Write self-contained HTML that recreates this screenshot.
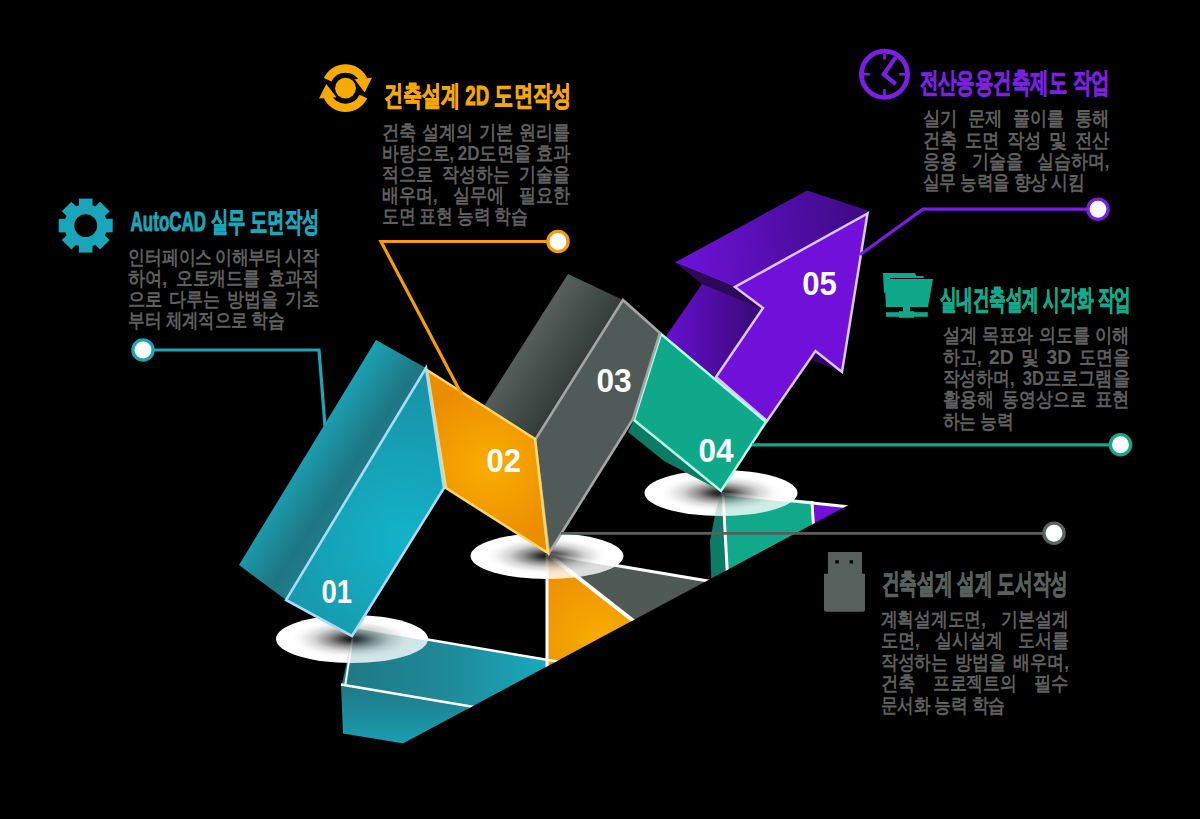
<!DOCTYPE html>
<html><head><meta charset="utf-8"><title>Infographic</title>
<style>
html,body{margin:0;padding:0;background:#000;width:1200px;height:819px;overflow:hidden}
svg{display:block}
text{font-family:"Liberation Sans",sans-serif}
.b{fill:#5f5f5f;font-size:19.5px;font-weight:bold}
.t{font-size:27.5px;font-weight:bold;stroke-width:0.9px}
.n{fill:#fff;font-size:34px;font-weight:bold}
</style></head><body>
<svg width="1200" height="819" viewBox="0 0 1200 819">
<defs>
  <clipPath id="cut"><polygon points="0,0 1200,0 1200,317 0,959"/></clipPath>
  <radialGradient id="shadow" cx="0.5" cy="0.5" r="0.5">
    <stop offset="0" stop-color="#181818"/>
    <stop offset="0.1" stop-color="#303030"/>
    <stop offset="0.3" stop-color="#8e8e8e"/>
    <stop offset="0.5" stop-color="#d6d6d6"/>
    <stop offset="0.68" stop-color="#f7f7f7"/>
    <stop offset="0.78" stop-color="#fff"/>
  </radialGradient>
  <linearGradient id="tealSide" gradientUnits="userSpaceOnUse" x1="300" y1="440" x2="360" y2="480">
    <stop offset="0" stop-color="#1aa8bc"/><stop offset="0.8" stop-color="#1f7683"/><stop offset="1" stop-color="#1f7b89"/>
  </linearGradient>
  <radialGradient id="tealFront" gradientUnits="userSpaceOnUse" cx="405" cy="540" r="170">
    <stop offset="0" stop-color="#13b3c9"/><stop offset="1" stop-color="#1890a4"/>
  </radialGradient>
  <radialGradient id="orangeFront" gradientUnits="userSpaceOnUse" cx="490" cy="465" r="80">
    <stop offset="0" stop-color="#f9ae00"/><stop offset="1" stop-color="#ec8d00"/>
  </radialGradient>
  <linearGradient id="graySide" gradientUnits="userSpaceOnUse" x1="525" y1="330" x2="585" y2="370">
    <stop offset="0" stop-color="#58625f"/><stop offset="1" stop-color="#323a38"/>
  </linearGradient>
  <linearGradient id="purpTop" gradientUnits="userSpaceOnUse" x1="690" y1="250" x2="860" y2="230">
    <stop offset="0" stop-color="#6a12d4"/><stop offset="1" stop-color="#3f0a88"/>
  </linearGradient>
  <linearGradient id="purpShaft" gradientUnits="userSpaceOnUse" x1="668" y1="0" x2="758" y2="0">
    <stop offset="0" stop-color="#6610ce"/><stop offset="1" stop-color="#3a0878"/>
  </linearGradient>
  <linearGradient id="reflTealA" gradientUnits="userSpaceOnUse" x1="350" y1="0" x2="555" y2="0">
    <stop offset="0" stop-color="#1f7a87"/><stop offset="0.45" stop-color="#1f8896"/><stop offset="1" stop-color="#19abbf"/>
  </linearGradient>
  <linearGradient id="reflTealB" gradientUnits="userSpaceOnUse" x1="0" y1="690" x2="0" y2="745">
    <stop offset="0" stop-color="#1f7c89"/><stop offset="1" stop-color="#1a9fb3"/>
  </linearGradient>
  <radialGradient id="reflOrange" gradientUnits="userSpaceOnUse" cx="600" cy="640" r="95">
    <stop offset="0" stop-color="#f8ad00"/><stop offset="1" stop-color="#e98a06"/>
  </radialGradient>
  <clipPath id="ellClip"><ellipse cx="352" cy="639" rx="76" ry="24"/><ellipse cx="547" cy="556" rx="76.5" ry="23"/><ellipse cx="721" cy="493" rx="76.5" ry="23"/></clipPath>
  <mask id="gearHole"><rect x="0" y="0" width="1200" height="819" fill="#fff"/><circle cx="85.7" cy="225.6" r="11.4" fill="#000"/></mask>
</defs>

<rect width="1200" height="819" fill="#000"/>

<!-- ===== reflections ===== -->
<g clip-path="url(#cut)"><g id="refl">
  <polygon points="352,637 354,627 562,662 480,712 342,684" fill="url(#reflTealA)"/>
  <polygon points="341,684 480,708 520,722 440,749.5 343,733.5" fill="url(#reflTealB)"/>
  <polygon points="548,554 660,641 548,700" fill="url(#reflOrange)"/>
  <polygon points="548,554 722,583 650,650 640,626" fill="#4f5956"/>
  <polygon points="721,492 725,492 729,590 712,600 710,541 716,510" fill="#0d7c66"/>
  <polygon points="725,493 812,501 815,540 729,600" fill="#10a98a"/>
  <polygon points="814,504.5 860,509 860,540 815,540" fill="#7010d8"/>
  <g stroke="#fff" fill="none">
    <line x1="354" y1="627" x2="560" y2="662" stroke-width="2.5"/>
    <line x1="352.6" y1="638" x2="345.4" y2="684" stroke-width="2"/>
    <line x1="341" y1="684.5" x2="480" y2="708" stroke-width="2.5"/>
    <line x1="547" y1="554" x2="547" y2="670" stroke-width="3"/>
    <line x1="548" y1="554" x2="645" y2="630" stroke-width="4"/>
    <line x1="548" y1="554" x2="720" y2="583" stroke-width="3"/>
    <line x1="723" y1="493" x2="728" y2="585" stroke-width="3"/>
    <line x1="812" y1="501" x2="814" y2="535" stroke-width="3"/>
    <line x1="721" y1="493.5" x2="860" y2="508" stroke-width="3"/>
  </g>
</g></g>

<!-- ===== shadows ===== -->
<ellipse cx="352" cy="639" rx="76" ry="24" fill="url(#shadow)"/>
<ellipse cx="547" cy="556" rx="76.5" ry="23" fill="url(#shadow)"/>
<ellipse cx="721" cy="493" rx="76.5" ry="23" fill="url(#shadow)"/>
<g clip-path="url(#ellClip)" opacity="0.2"><use href="#refl" clip-path="url(#cut)"/></g>

<!-- ===== purple 05 ===== -->
<polygon points="675,262.5 807,190.5 869.5,211 867.5,213.5 735,287" fill="url(#purpTop)"/>
<polygon points="675,262.5 734,286.5 761,308 702,284" fill="#2d0858"/>
<polygon points="702,284 761,308 716,377 660,345" fill="url(#purpShaft)"/>
<polygon points="815.5,352 811.5,360 841.5,372" fill="#2d0858"/>
<polygon points="867.5,213.5 735,287 763,308 716,377 767,421 815.5,351 842,372" fill="#7010d8" stroke="#dcc6ff" stroke-width="2.5" stroke-linejoin="miter"/>

<!-- ===== green 04 ===== -->
<polygon points="634,420 628,432 664,461 721,491" fill="#0c7b64"/>
<polygon points="661,334 766,422 721,491 634,420" fill="#0fa98a" stroke="#b4ffe8" stroke-width="2.5"/>

<!-- ===== gray 03 ===== -->
<polygon points="568,274 623,300 535,440 484,406" fill="url(#graySide)"/>
<polygon points="623,300 660,333 633,419 549,553 535,440" fill="#505a58" stroke="#a5a5a5" stroke-width="2.6"/>

<!-- ===== orange 02 ===== -->
<polygon points="427,370 535,439 548,553 446,488" fill="url(#orangeFront)" stroke="#ffd766" stroke-width="2.6"/>

<!-- ===== teal 01 ===== -->
<polygon points="376,340 426,368 286,600 239,565" fill="url(#tealSide)"/>
<polygon points="426,368 444,488 352,636 286,600" fill="url(#tealFront)" stroke="#a6dcf7" stroke-width="2.6"/>

<!-- ===== leader lines ===== -->
<g fill="none" stroke-width="3.2" stroke-linejoin="miter">
  <polyline points="143,350 319,350 325,426" stroke="#1aa5b9"/>
  <polyline points="558,241.5 381,241.5 462,395" stroke="#f49e00"/>
  <polyline points="860,254.7 923,209.2 1098,209.2" stroke="#7a1de2"/>
  <polyline points="752,444.8 1120,444.8" stroke="#12a98a"/>
  <polyline points="561,533.3 1054,533.3" stroke="#56615e" stroke-width="2.7"/>
</g>
<g fill="#fff" stroke-width="3.3">
  <circle cx="143" cy="350" r="10.1" stroke="#1aa5b9"/>
  <circle cx="558" cy="241.5" r="10.1" stroke="#f49e00"/>
  <circle cx="1098" cy="209.2" r="10.1" stroke="#7a1de2"/>
  <circle cx="1120.5" cy="444.8" r="10.1" stroke="#12a98a"/>
  <circle cx="1054" cy="533.3" r="10.1" stroke="#586461"/>
</g>

<!-- ===== numbers ===== -->
<text class="n" x="321.5" y="602.5" textLength="30.6" lengthAdjust="spacingAndGlyphs">01</text>
<text class="n" x="486.5" y="472" textLength="34.5" lengthAdjust="spacingAndGlyphs">02</text>
<text class="n" x="596.5" y="392" textLength="35.2" lengthAdjust="spacingAndGlyphs">03</text>
<text class="n" x="698.5" y="462" textLength="35.1" lengthAdjust="spacingAndGlyphs">04</text>
<text class="n" x="802.2" y="294.5" textLength="34.6" lengthAdjust="spacingAndGlyphs">05</text>

<!-- ===== icons ===== -->
<!-- gear -->
<g fill="#19a6ba" mask="url(#gearHole)">
  <circle cx="85.7" cy="225.6" r="21.5"/>
  <g transform="translate(85.7 225.6)">
    <rect x="-6.8" y="-27" width="13.6" height="12"/>
    <rect x="-6.8" y="-27" width="13.6" height="12" transform="rotate(45)"/>
    <rect x="-6.8" y="-27" width="13.6" height="12" transform="rotate(90)"/>
    <rect x="-6.8" y="-27" width="13.6" height="12" transform="rotate(135)"/>
    <rect x="-6.8" y="-27" width="13.6" height="12" transform="rotate(180)"/>
    <rect x="-6.8" y="-27" width="13.6" height="12" transform="rotate(225)"/>
    <rect x="-6.8" y="-27" width="13.6" height="12" transform="rotate(270)"/>
    <rect x="-6.8" y="-27" width="13.6" height="12" transform="rotate(315)"/>
  </g>
</g>
<!-- refresh -->
<g fill="#f7aa00">
  <circle cx="345.5" cy="88.2" r="10.4"/>
  <path d="M323.8,78.1 A24,24 0 0 1 367.2,78.1 L359.5,81.6 A15.5,15.5 0 0 0 331.5,81.6 Z"/>
  <polygon points="354.5,79.2 372,77.8 364.7,92.4"/>
  <path d="M367.2,98.3 A24,24 0 0 1 323.8,98.3 L331.5,94.8 A15.5,15.5 0 0 0 359.5,94.8 Z"/>
  <polygon points="336.5,97.2 319,98.6 326.3,84"/>
</g>
<!-- clock -->
<g stroke="#7b1fe6" fill="none">
  <circle cx="884.5" cy="74.3" r="23.1" stroke-width="4.8"/>
  <g stroke-width="2.6">
    <line x1="884.5" y1="53.6" x2="884.5" y2="59.6"/>
    <line x1="884.5" y1="89" x2="884.5" y2="95"/>
    <line x1="863.8" y1="74.3" x2="869.8" y2="74.3"/>
    <line x1="899.2" y1="74.3" x2="905.2" y2="74.3"/>
  </g>
  <polyline points="895.7,57.2 883.8,74.3 895.7,84" stroke-width="4.2" stroke-linejoin="miter"/>
</g>
<!-- monitor/folder -->
<g fill="#10a88a">
  <polygon points="883,273 915,273 916.3,276 923.5,276 923.8,278 890,278 890,280 884,294"/>
  <polygon points="884.5,279 933,279 928,307 886,307"/>
  <rect x="903" y="306" width="7" height="7"/>
  <rect x="886" y="312.2" width="41.8" height="4.6"/>
  <rect x="899" y="311.2" width="15" height="6.6"/>
</g>
<!-- usb -->
<g fill="#56605d">
  <rect x="828" y="552" width="34" height="23"/>
  <path d="M824,573.8 H865 V609.8 Q865,611.8 863,611.8 H826 Q824,611.8 824,609.8 Z"/>
  <rect x="835.3" y="560.2" width="3.4" height="3.2" fill="#000"/>
  <rect x="849.6" y="560.2" width="3.4" height="3.2" fill="#000"/>
</g>

<!-- ===== text blocks ===== -->
<!-- teal -->
<text class="t" fill="#1aa6bb" stroke="#1aa6bb" x="130.6" y="231" textLength="188.8" lengthAdjust="spacingAndGlyphs">AutoCAD 실무 도면작성</text>
<!-- orange -->
<text class="t" fill="#f5a800" stroke="#f5a800" x="383.7" y="105" textLength="187.1" lengthAdjust="spacingAndGlyphs">건축설계 2D 도면작성</text>
<!-- purple -->
<text class="t" fill="#7b1fe3" stroke="#7b1fe3" x="919.5" y="92" textLength="190.0" lengthAdjust="spacingAndGlyphs">전산응용건축제도 작업</text>
<!-- green -->
<text class="t" fill="#12a98a" stroke="#12a98a" x="939.6" y="308.7" textLength="191.2" lengthAdjust="spacingAndGlyphs">실내건축설계 시각화 작업</text>
<!-- gray -->
<text class="t" fill="#56605d" stroke="#56605d" x="881.5" y="592.5" textLength="186.4" lengthAdjust="spacingAndGlyphs">건축설계 설계 도서작성</text>
<!-- body text -->
<text class="b" x="128.1" y="263.5" textLength="84.1" lengthAdjust="spacingAndGlyphs">인터페이스</text>
<text class="b" x="214.7" y="263.5" textLength="67.6" lengthAdjust="spacingAndGlyphs">이해부터</text>
<text class="b" x="284.8" y="263.5" textLength="34.6" lengthAdjust="spacingAndGlyphs">시작</text>
<text class="b" x="128.1" y="284.7" textLength="39.1" lengthAdjust="spacingAndGlyphs">하여,</text>
<text class="b" x="175.7" y="284.7" textLength="84.1" lengthAdjust="spacingAndGlyphs">오토캐드를</text>
<text class="b" x="268.3" y="284.7" textLength="51.1" lengthAdjust="spacingAndGlyphs">효과적</text>
<text class="b" x="128.1" y="306" textLength="34.6" lengthAdjust="spacingAndGlyphs">으로</text>
<text class="b" x="169.3" y="306" textLength="51.1" lengthAdjust="spacingAndGlyphs">다루는</text>
<text class="b" x="227.1" y="306" textLength="51.1" lengthAdjust="spacingAndGlyphs">방법을</text>
<text class="b" x="284.8" y="306" textLength="34.6" lengthAdjust="spacingAndGlyphs">기초</text>
<text class="b" x="128.1" y="327.3" textLength="33.6" lengthAdjust="spacingAndGlyphs">부터</text>
<text class="b" x="165.6" y="327.3" textLength="81.6" lengthAdjust="spacingAndGlyphs">체계적으로</text>
<text class="b" x="251.1" y="327.3" textLength="33.6" lengthAdjust="spacingAndGlyphs">학습</text>
<text class="b" x="381.9" y="138.5" textLength="34.6" lengthAdjust="spacingAndGlyphs">건축</text>
<text class="b" x="422.1" y="138.5" textLength="51.1" lengthAdjust="spacingAndGlyphs">설계의</text>
<text class="b" x="478.8" y="138.5" textLength="34.6" lengthAdjust="spacingAndGlyphs">기본</text>
<text class="b" x="519.0" y="138.5" textLength="51.1" lengthAdjust="spacingAndGlyphs">원리를</text>
<text class="b" x="381.9" y="159.7" textLength="72.1" lengthAdjust="spacingAndGlyphs">바탕으로,</text>
<text class="b" x="457.7" y="159.7" textLength="74.1" lengthAdjust="spacingAndGlyphs">2D도면을</text>
<text class="b" x="535.5" y="159.7" textLength="34.6" lengthAdjust="spacingAndGlyphs">효과</text>
<text class="b" x="381.9" y="180.9" textLength="51.1" lengthAdjust="spacingAndGlyphs">적으로</text>
<text class="b" x="442.2" y="180.9" textLength="67.6" lengthAdjust="spacingAndGlyphs">작성하는</text>
<text class="b" x="519.0" y="180.9" textLength="51.1" lengthAdjust="spacingAndGlyphs">기술을</text>
<text class="b" x="381.9" y="202.1" textLength="55.6" lengthAdjust="spacingAndGlyphs">배우며,</text>
<text class="b" x="452.7" y="202.1" textLength="51.1" lengthAdjust="spacingAndGlyphs">실무에</text>
<text class="b" x="519.0" y="202.1" textLength="51.1" lengthAdjust="spacingAndGlyphs">필요한</text>
<text class="b" x="381.9" y="223.3" textLength="33.6" lengthAdjust="spacingAndGlyphs">도면</text>
<text class="b" x="419.4" y="223.3" textLength="33.6" lengthAdjust="spacingAndGlyphs">표현</text>
<text class="b" x="456.9" y="223.3" textLength="33.6" lengthAdjust="spacingAndGlyphs">능력</text>
<text class="b" x="494.4" y="223.3" textLength="33.6" lengthAdjust="spacingAndGlyphs">학습</text>
<text class="b" x="922.5" y="125.2" textLength="34.6" lengthAdjust="spacingAndGlyphs">실기</text>
<text class="b" x="967.7" y="125.2" textLength="34.6" lengthAdjust="spacingAndGlyphs">문제</text>
<text class="b" x="1013.0" y="125.2" textLength="51.1" lengthAdjust="spacingAndGlyphs">풀이를</text>
<text class="b" x="1074.7" y="125.2" textLength="34.6" lengthAdjust="spacingAndGlyphs">통해</text>
<text class="b" x="922.5" y="146.5" textLength="34.6" lengthAdjust="spacingAndGlyphs">건축</text>
<text class="b" x="964.7" y="146.5" textLength="34.6" lengthAdjust="spacingAndGlyphs">도면</text>
<text class="b" x="1006.8" y="146.5" textLength="34.6" lengthAdjust="spacingAndGlyphs">작성</text>
<text class="b" x="1049.0" y="146.5" textLength="18.1" lengthAdjust="spacingAndGlyphs">및</text>
<text class="b" x="1074.7" y="146.5" textLength="34.6" lengthAdjust="spacingAndGlyphs">전산</text>
<text class="b" x="922.5" y="167.8" textLength="34.6" lengthAdjust="spacingAndGlyphs">응용</text>
<text class="b" x="971.6" y="167.8" textLength="51.1" lengthAdjust="spacingAndGlyphs">기술을</text>
<text class="b" x="1037.2" y="167.8" textLength="72.1" lengthAdjust="spacingAndGlyphs">실습하며,</text>
<text class="b" x="922.5" y="189.1" textLength="33.6" lengthAdjust="spacingAndGlyphs">실무</text>
<text class="b" x="960.0" y="189.1" textLength="49.6" lengthAdjust="spacingAndGlyphs">능력을</text>
<text class="b" x="1013.5" y="189.1" textLength="33.6" lengthAdjust="spacingAndGlyphs">향상</text>
<text class="b" x="1051.0" y="189.1" textLength="33.6" lengthAdjust="spacingAndGlyphs">시킴</text>
<text class="b" x="942.5" y="342.3" textLength="34.6" lengthAdjust="spacingAndGlyphs">설계</text>
<text class="b" x="982.4" y="342.3" textLength="51.1" lengthAdjust="spacingAndGlyphs">목표와</text>
<text class="b" x="1038.8" y="342.3" textLength="51.1" lengthAdjust="spacingAndGlyphs">의도를</text>
<text class="b" x="1095.2" y="342.3" textLength="34.6" lengthAdjust="spacingAndGlyphs">이해</text>
<text class="b" x="942.5" y="363.6" textLength="39.1" lengthAdjust="spacingAndGlyphs">하고,</text>
<text class="b" x="989.0" y="363.6" textLength="24.6" lengthAdjust="spacingAndGlyphs">2D</text>
<text class="b" x="1021.1" y="363.6" textLength="18.1" lengthAdjust="spacingAndGlyphs">및</text>
<text class="b" x="1046.6" y="363.6" textLength="24.6" lengthAdjust="spacingAndGlyphs">3D</text>
<text class="b" x="1078.7" y="363.6" textLength="51.1" lengthAdjust="spacingAndGlyphs">도면을</text>
<text class="b" x="942.5" y="385" textLength="72.1" lengthAdjust="spacingAndGlyphs">작성하며,</text>
<text class="b" x="1022.7" y="385" textLength="107.1" lengthAdjust="spacingAndGlyphs">3D프로그램을</text>
<text class="b" x="942.5" y="406.3" textLength="51.1" lengthAdjust="spacingAndGlyphs">활용해</text>
<text class="b" x="1002.4" y="406.3" textLength="84.1" lengthAdjust="spacingAndGlyphs">동영상으로</text>
<text class="b" x="1095.2" y="406.3" textLength="34.6" lengthAdjust="spacingAndGlyphs">표현</text>
<text class="b" x="942.5" y="427.7" textLength="33.6" lengthAdjust="spacingAndGlyphs">하는</text>
<text class="b" x="980.0" y="427.7" textLength="33.6" lengthAdjust="spacingAndGlyphs">능력</text>
<text class="b" x="880.7" y="625.7" textLength="105.1" lengthAdjust="spacingAndGlyphs">계획설계도면,</text>
<text class="b" x="1001.2" y="625.7" textLength="67.6" lengthAdjust="spacingAndGlyphs">기본설계</text>
<text class="b" x="880.7" y="647.2" textLength="39.1" lengthAdjust="spacingAndGlyphs">도면,</text>
<text class="b" x="935.0" y="647.2" textLength="67.6" lengthAdjust="spacingAndGlyphs">실시설계</text>
<text class="b" x="1017.7" y="647.2" textLength="51.1" lengthAdjust="spacingAndGlyphs">도서를</text>
<text class="b" x="880.7" y="668.7" textLength="67.6" lengthAdjust="spacingAndGlyphs">작성하는</text>
<text class="b" x="955.2" y="668.7" textLength="51.1" lengthAdjust="spacingAndGlyphs">방법을</text>
<text class="b" x="1013.2" y="668.7" textLength="55.6" lengthAdjust="spacingAndGlyphs">배우며,</text>
<text class="b" x="880.7" y="690.2" textLength="34.6" lengthAdjust="spacingAndGlyphs">건축</text>
<text class="b" x="932.7" y="690.2" textLength="84.1" lengthAdjust="spacingAndGlyphs">프로젝트의</text>
<text class="b" x="1034.2" y="690.2" textLength="34.6" lengthAdjust="spacingAndGlyphs">필수</text>
<text class="b" x="880.7" y="711.7" textLength="49.6" lengthAdjust="spacingAndGlyphs">문서화</text>
<text class="b" x="934.2" y="711.7" textLength="33.6" lengthAdjust="spacingAndGlyphs">능력</text>
<text class="b" x="971.7" y="711.7" textLength="33.6" lengthAdjust="spacingAndGlyphs">학습</text>
</svg>
</body></html>
